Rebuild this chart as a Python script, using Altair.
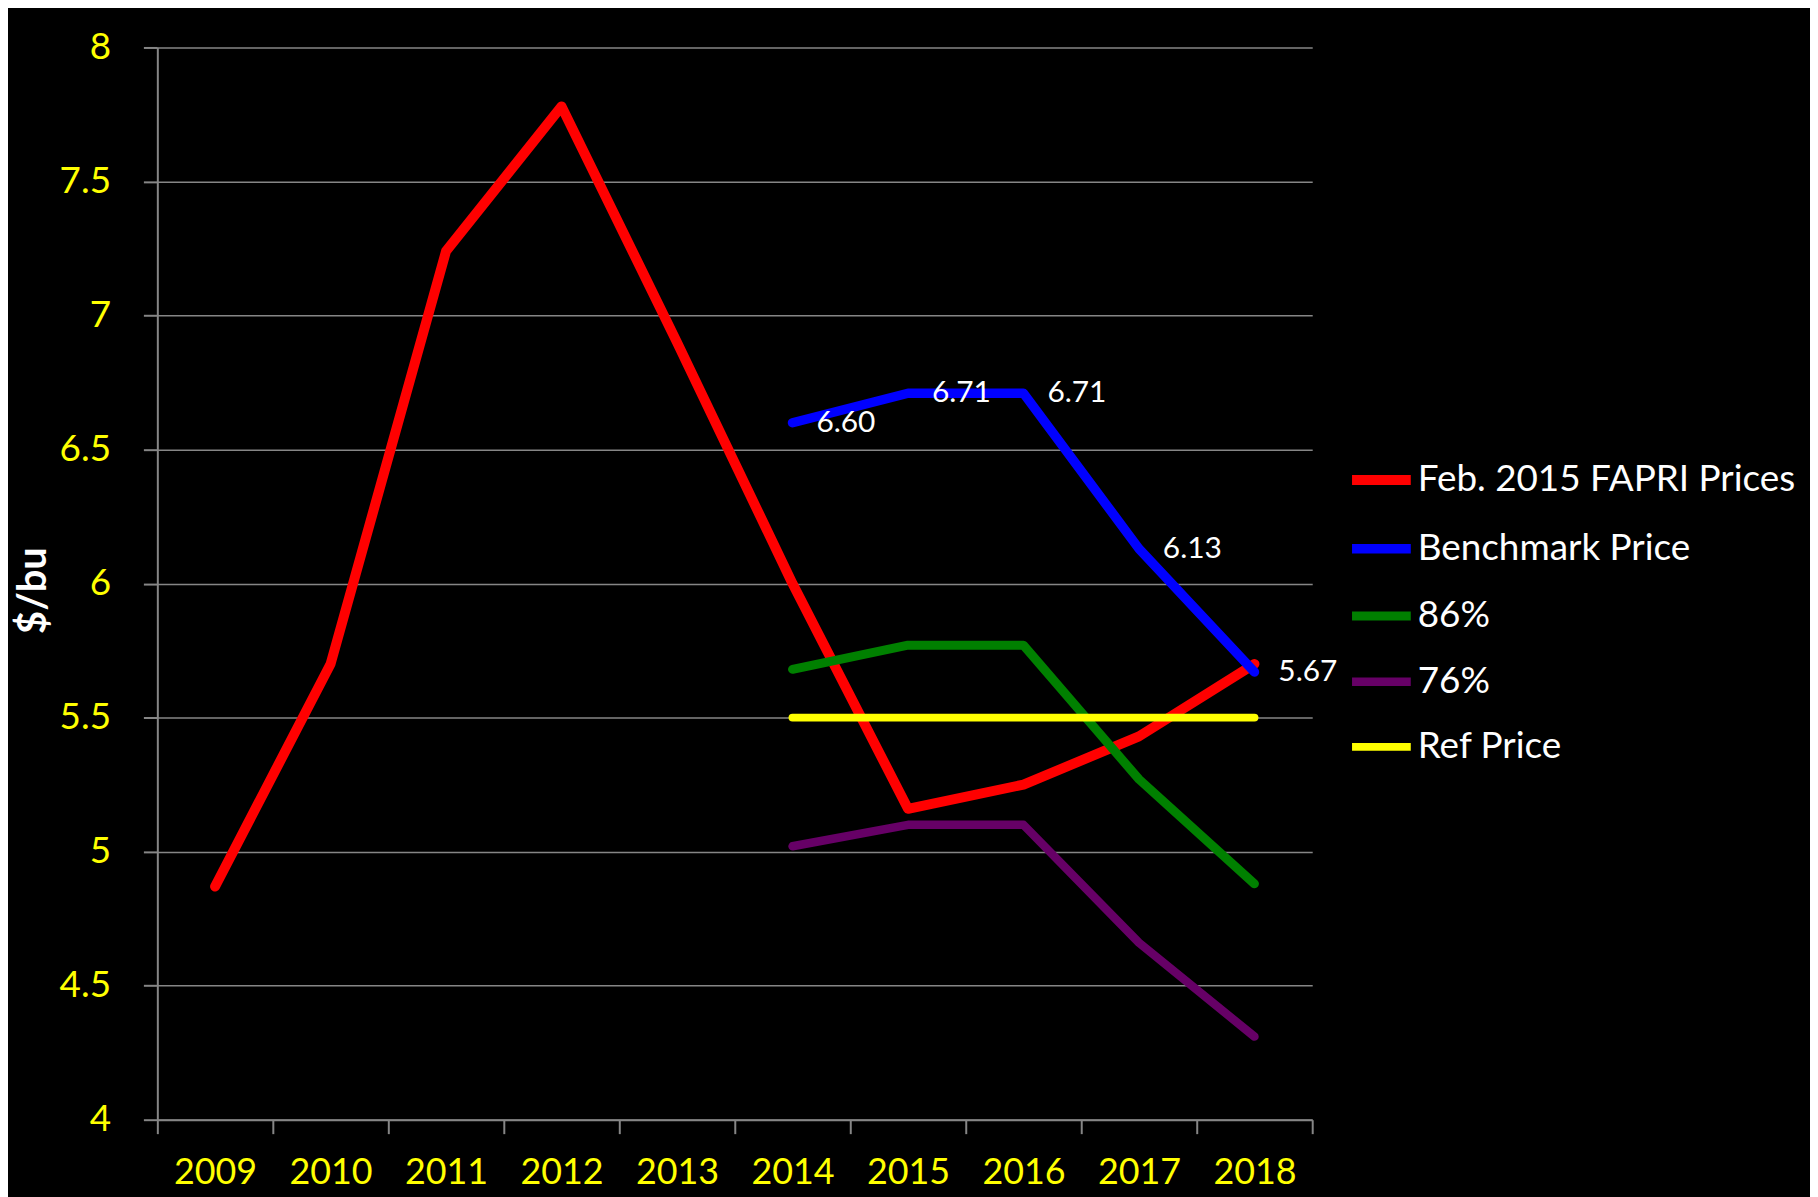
import altair as alt
import pandas as pd

years = [2009, 2010, 2011, 2012, 2013, 2014, 2015, 2016, 2017, 2018]
fapri = [4.87, 5.70, 7.24, 7.78, 6.90, 6.00, 5.16, 5.25, 5.43, 5.70]
proj_years = [2014, 2015, 2016, 2017, 2018]
benchmark = [6.60, 6.71, 6.71, 6.13, 5.67]
pct86 = [5.68, 5.77, 5.77, 5.27, 4.88]
pct76 = [5.02, 5.10, 5.10, 4.66, 4.31]
ref_price = [5.50, 5.50, 5.50, 5.50, 5.50]

series_names = ["Feb. 2015 FAPRI Prices", "Benchmark Price", "86%", "76%", "Ref Price"]
series_colors = ["#FF0000", "#0000FF", "#008000", "#660066", "#FFFF00"]
series_widths = [10, 8, 7, 7.5, 7]

rows = []
for y, v in zip(years, fapri):
    rows.append({"year": str(y), "price": v, "series": series_names[0]})
for name, vals in zip(series_names[1:], [benchmark, pct86, pct76, ref_price]):
    for y, v in zip(proj_years, vals):
        rows.append({"year": str(y), "price": v, "series": name})
df = pd.DataFrame(rows)

FONT = "Lato"
GRID = "#868686"

x_enc = alt.X(
    "year:O",
    bandPosition=0.5,
    sort=[str(y) for y in years],
    scale=alt.Scale(type="band", paddingInner=0, paddingOuter=0, domain=[str(y) for y in years]),
    axis=alt.Axis(
        title=None,
        tickBand="extent",
        labelAngle=0,
        labelColor="#FFFF00",
        labelFont=FONT,
        labelFontSize=36,
        labelPadding=22,
        tickSize=14,
        tickColor=GRID,
        tickWidth=2,
        domainColor=GRID,
        domainWidth=2,
        grid=False,
    ),
)

y_enc = alt.Y(
    "price:Q",
    scale=alt.Scale(domain=[4, 8], nice=False, zero=False),
    axis=alt.Axis(
        title="$/bu",
        values=[4, 4.5, 5, 5.5, 6, 6.5, 7, 7.5, 8],
        format="~g",
        labelColor="#FFFF00",
        labelFont=FONT,
        labelFontSize=37,
        labelPadding=33,
        tickSize=14,
        tickColor=GRID,
        tickWidth=2,
        domainColor=GRID,
        domainWidth=2,
        grid=True,
        gridColor=GRID,
        gridWidth=1.5,
        titleColor="white",
        titleFont=FONT,
        titleFontSize=40,
        titleFontWeight="bold",
        titleAngle=270,
        titleAlign="center",
        titleBaseline="middle",
        titleX=-124,
        titleY=545,
    ),
)

lines = alt.Chart(df).mark_line(strokeCap="round", strokeJoin="round").encode(
    x=x_enc,
    y=y_enc,
    color=alt.Color(
        "series:N",
        scale=alt.Scale(domain=series_names, range=series_colors),
        sort=series_names,
        legend=alt.Legend(
            title=None,
            orient="none",
            legendX=1195,
            legendY=400,
            symbolType="stroke",
            symbolSize=3481,
            symbolStrokeWidth=8,
            labelColor="white",
            labelFont=FONT,
            labelFontSize=37,
            labelOffset=2,
            labelLimit=0,
            rowPadding=14,
        ),
    ),
    strokeWidth=alt.StrokeWidth(
        "series:N",
        scale=alt.Scale(domain=series_names, range=series_widths),
        legend=None,
    ),
)

labels = alt.Chart(df).transform_filter(
    alt.datum.series == "Benchmark Price"
).mark_text(
    align="left", baseline="middle", dx=24, color="white", font=FONT, fontSize=30
).encode(
    x=alt.X("year:O", bandPosition=0.5, sort=[str(y) for y in years]),
    y=alt.Y("price:Q"),
    text=alt.Text("price:Q", format=".2f"),
)

chart = alt.layer(lines, labels).properties(
    width=1160,
    height=1077,
    background="black",
    autosize=alt.AutoSizeParams(type="none"),
    padding={"left": 150, "top": 37, "right": 500, "bottom": 75},
).configure_view(stroke=None)

chart.save("out.html", embed_options={"renderer": "svg", "actions": False})
